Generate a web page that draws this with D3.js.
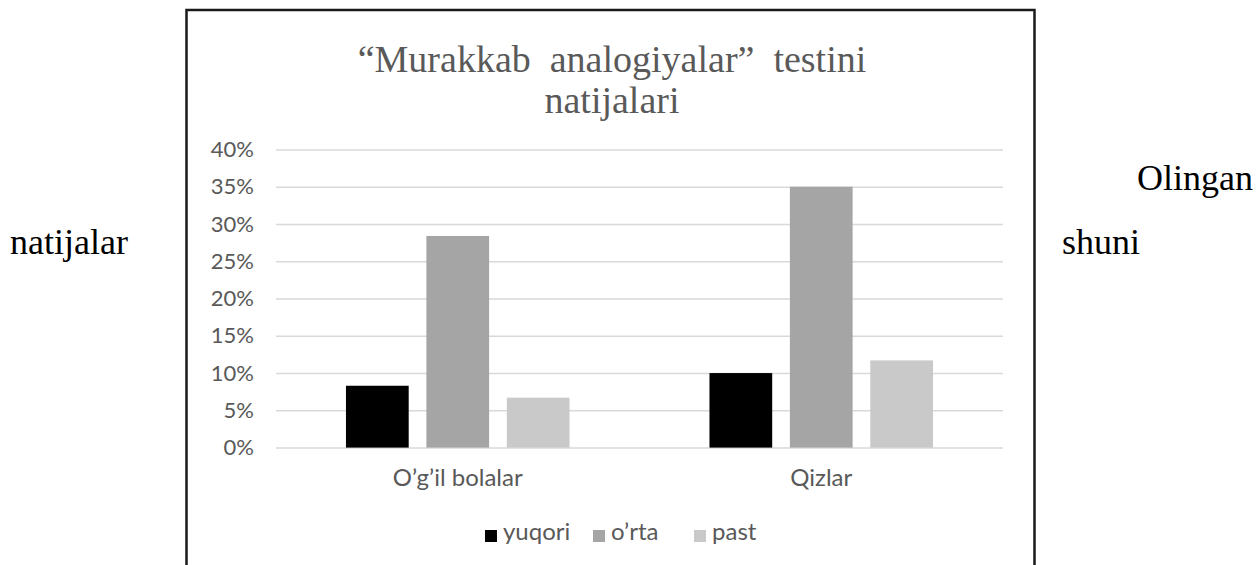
<!DOCTYPE html>
<html>
  <head>
    <meta charset="utf-8">
    <style>
      html, body {
        padding: 0;
        margin: 0;
        overflow: hidden;
        background: #ffffff;
      }
      .body-text {
        font-family: "Liberation Serif", "Times New Roman", serif;
        font-size: 36px;
        fill: #000000;
      }
      .title {
        font-family: "Liberation Serif", "Times New Roman", serif;
        font-size: 38px;
        fill: #595959;
      }
      .axis text, .cat text, .legend text {
        font-family: Lato, "Open Sans", sans-serif;
        fill: #595959;
      }
      .grid line {
        stroke: #d9d9d9;
        stroke-width: 1.5;
      }
    </style>
  </head>
  <body>
    <div id="chart"></div>
    <script src="https://cdnjs.cloudflare.com/ajax/libs/d3/7.8.5/d3.min.js"></script>
    <script>
      // data
      const groups = ['O\u2019g\u2019il bolalar', 'Qizlar']
      const series = ['yuqori', 'o\u2019rta', 'past']
      const yuqori = [0.083, 0.10]
      const orta = [0.284, 0.35]
      const past = [0.067, 0.117]
      const yTicks = [0, 0.05, 0.10, 0.15, 0.20, 0.25, 0.30, 0.35, 0.40]
      const colors = ['#000000', '#a5a5a5', '#c9c9c9']
      const titleLines = ['\u201cMurakkab  analogiyalar\u201d  testini', 'natijalari']

      const values = [yuqori, orta, past]

      let width = 1260
      let height = 565

      let svg = d3.select('#chart')
        .append('svg')
        .attr('width', width)
        .attr('height', height)

      // surrounding document text
      svg.append('text').attr('class', 'body-text')
        .attr('x', 1137).attr('y', 190).text('Olingan')
      svg.append('text').attr('class', 'body-text')
        .attr('x', 10).attr('y', 254).text('natijalar')
      svg.append('text').attr('class', 'body-text')
        .attr('x', 1062).attr('y', 254).text('shuni')

      // chart frame
      svg.append('rect')
        .attr('x', 186.5).attr('y', 10)
        .attr('width', 848).attr('height', 600)
        .attr('fill', '#ffffff')
        .attr('stroke', '#1a1a1a')
        .attr('stroke-width', 2.5)

      svg.selectAll('.title')
        .data(titleLines)
        .enter().append('text')
        .attr('class', 'title')
        .attr('x', 612)
        .attr('y', (d, i) => 72 + i * 41)
        .attr('text-anchor', 'middle')
        .style('white-space', 'pre')
        .text(d => d)

      let plot = {left: 276, right: 1003, top: 149.5, bottom: 447.6}

      let y = d3.scaleLinear()
        .domain([0, 0.4])
        .range([plot.bottom, plot.top])

      let x0 = d3.scaleBand()
        .domain(groups)
        .range([plot.left, plot.right])

      let x1 = d3.scaleBand()
        .domain(series)
        .range([0, x0.bandwidth()])
        .paddingInner(0.22)
        .paddingOuter(0.87)

      let yAxis = d3.axisLeft(y)
        .tickValues(yTicks)
        .tickFormat(d3.format('.0%'))
        .tickSize(-(plot.right - plot.left))
        .tickPadding(22)

      let gy = svg.append('g')
        .attr('class', 'axis grid')
        .attr('transform', 'translate(' + plot.left + ',0)')
        .call(yAxis)
      gy.select('.domain').remove()
      gy.selectAll('text').style('font-size', '22px')

      // bars
      let bars = []
      groups.forEach((g, gi) => {
        series.forEach((s, si) => {
          bars.push({group: g, series: s, si: si, value: values[si][gi]})
        })
      })

      svg.append('g').selectAll('rect')
        .data(bars)
        .enter().append('rect')
        .attr('x', d => x0(d.group) + x1(d.series))
        .attr('y', d => y(d.value))
        .attr('width', x1.bandwidth())
        .attr('height', d => y(0) - y(d.value))
        .attr('fill', d => colors[d.si])

      let xAxis = d3.axisBottom(x0)
        .tickSize(0)
        .tickPadding(0)

      let gx = svg.append('g')
        .attr('class', 'axis cat')
        .attr('transform', 'translate(0,' + 469 + ')')
        .call(xAxis)
      gx.select('.domain').remove()
      gx.selectAll('text').style('font-size', '24px')

      // legend
      let legend = svg.append('g').attr('class', 'legend')
      let legendX = [485, 593, 694]
      let items = legend.selectAll('g')
        .data(series)
        .enter().append('g')
        .attr('transform', (d, i) => 'translate(' + legendX[i] + ',530)')
      items.append('rect')
        .attr('width', 12).attr('height', 12)
        .attr('fill', (d, i) => colors[i])
      items.append('text')
        .attr('x', 18).attr('y', 9.5)
        .style('font-size', '24px')
        .text(d => d)
    </script>
  </body>
</html>
